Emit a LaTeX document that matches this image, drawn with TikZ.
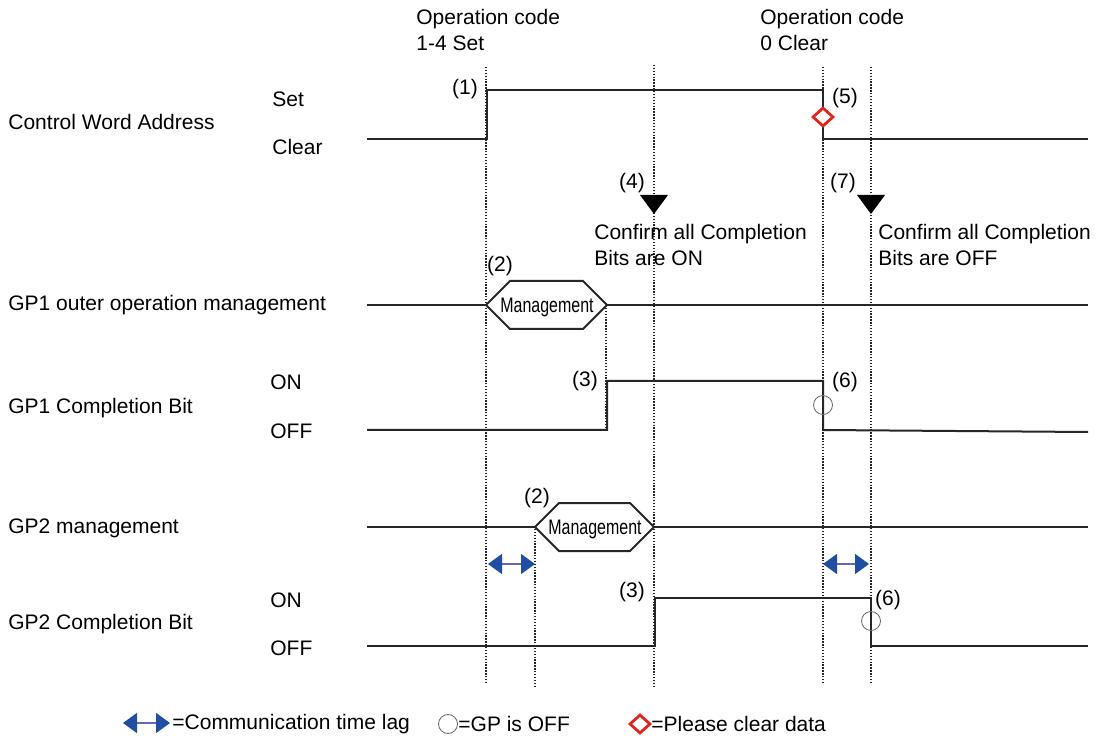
\documentclass[tikz,border=0pt]{standalone}
\usepackage{fontspec}
\usepackage{graphicx}
\setmainfont{Liberation Sans}
\usetikzlibrary{arrows.meta,shapes.geometric}

\definecolor{lagblue}{HTML}{1F4FA5}
\definecolor{lagshaft}{HTML}{6B63B5}
\definecolor{clearred}{HTML}{E5231B}

\tikzset{
  wave/.style={line width=1pt, black!85},
  guide/.style={line width=0.75pt, black!85, dash pattern=on 0.7pt off 0.75pt},
  lbl/.style={anchor=west, inner sep=0pt, font=\fontsize{10.5}{12}\selectfont},
  num/.style={inner sep=0pt, font=\fontsize{10.5}{12}\selectfont},
  mgmt/.style={inner sep=0pt, font=\fontsize{10.5}{12}\selectfont},
  hexbox/.style={line width=1pt, black!85, fill=white},
  lag/.style={{Triangle[length=7pt,width=10pt,color=lagblue]}-{Triangle[length=7pt,width=10pt,color=lagblue]},
    lagshaft, line width=0.9pt},
  gpoff/.style={circle, draw=black!60, line width=0.4pt, minimum size=9.5pt, inner sep=0pt},
  cleardata/.style={diamond, draw=clearred, line width=1.4pt, fill=white,
    minimum width=10.5pt, minimum height=9.5pt, inner sep=0pt},
  confirm/.style={fill=black}
}

\begin{document}
\begin{tikzpicture}[x=0.5pt,y=-0.5pt]
\useasboundingbox (0,0) rectangle (1103,737);

% operation codes
\node[lbl, align=left] (opset) at (416,30) {Operation code\\[0.9pt]1-4 Set};
\node[lbl, align=left] (opclr) at (760,30) {Operation code\\[0.9pt]0 Clear};

% dotted guides
\draw[guide] (486,67) -- (486,684);
\draw[guide] (654,65) -- (654,688);
\draw[guide] (823,67) -- (823,684);
\draw[guide] (871,67) -- (871,684);
\draw[guide] (535,526) -- (535,686);
\draw[guide] (606,305) -- (606,430);

% row labels
\node[lbl] (cwa) at (8,122) {Control Word Address};
\node[lbl] (cwaset) at (272,99) {Set};
\node[lbl] (cwaclr) at (272,147) {Clear};
\node[lbl] (gp1mgmt) at (8,305) {GP1 outer operation management};
\node[lbl] (gp1bit) at (8,408) {GP1 Completion Bit};
\node[lbl] (gp1on) at (270,382) {ON};
\node[lbl] (gp1off) at (270,431) {OFF};
\node[lbl] (gp2mgmt) at (8,528) {GP2 management};
\node[lbl] (gp2bit) at (8,624) {GP2 Completion Bit};
\node[lbl] (gp2on) at (270,600) {ON};
\node[lbl] (gp2off) at (270,648) {OFF};

% control word address
\draw[wave] (367,139) -- (487,139) -- (487,90) -- (823,90) -- (823,139) -- (1088,139);
\node[cleardata] (clr5) at (823,117) {};
\node[num] (n1) at (465,89) {(1)};
\node[num] (n5) at (845,98) {(5)};

% confirmations
\fill[confirm] (640,195) -- (668,195) -- (654,214) -- cycle;
\fill[confirm] (857,195) -- (885,195) -- (871,214) -- cycle;
\node[num] (n4) at (632,183) {(4)};
\node[num] (n7) at (843,183) {(7)};
\node[lbl, align=left] (conon) at (594,245) {Confirm all Completion\\[0.9pt]Bits are ON};
\node[lbl, align=left] (conoff) at (878,245) {Confirm all Completion\\[0.9pt]Bits are OFF};

% GP1 outer operation management
\draw[wave] (367,305) -- (486,305);
\draw[hexbox] (486,305) -- (510,281) -- (583,281) -- (607,305) -- (583,329) -- (510,329) -- cycle;
\draw[wave] (607,305) -- (1088,305);
\node[mgmt] (m1) at (547,307) {\scalebox{0.76}[1]{Management}};
\node[num] (n2a) at (500,266) {(2)};

% GP1 completion bit
\draw[wave] (367,430) -- (607,430) -- (607,381) -- (823,381) -- (823,430) -- (1088,432);
\node[gpoff] (off1) at (823,405) {};
\node[num] (n3a) at (585,381) {(3)};
\node[num] (n6a) at (845,382) {(6)};

% GP2 management
\draw[wave] (367,527) -- (535,527);
\draw[hexbox] (535,527) -- (559,503) -- (630,503) -- (654,527) -- (630,551) -- (559,551) -- cycle;
\draw[wave] (654,527) -- (1088,527);
\node[mgmt] (m2) at (595,529) {\scalebox{0.76}[1]{Management}};
\node[num] (n2b) at (537,498) {(2)};

% communication lag
\draw[lag] (488,564) -- (535,564);
\draw[lag] (823,564) -- (869,564);

% GP2 completion bit
\draw[wave] (367,646) -- (655,646) -- (655,598) -- (871,598) -- (871,646) -- (1088,646);
\node[gpoff] (off2) at (871,621) {};
\node[num] (n3b) at (632,592) {(3)};
\node[num] (n6b) at (888,600) {(6)};

% legend
\draw[lag] (123,723) -- (170,723);
\node[lbl] (leglag) at (172,724) {=Communication time lag};
\node[gpoff] (legoff) at (448,724) {};
\node[lbl] (leggp) at (458,724) {=GP is OFF};
\node[cleardata] (legclr) at (640,724) {};
\node[lbl] (legclrtxt) at (651,724) {=Please clear data};
\end{tikzpicture}
\end{document}
